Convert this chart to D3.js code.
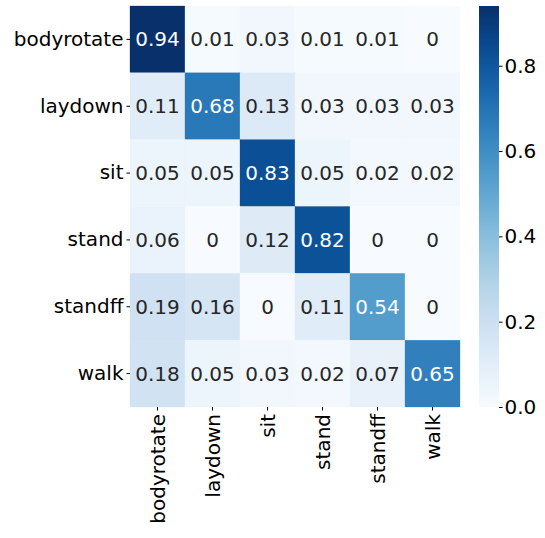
<!DOCTYPE html>
<html>
<head>
<meta charset="utf-8">
<script src="https://cdn.jsdelivr.net/npm/d3@7"></script>
<style>
  body { margin: 0; background: #fff; }
  text { font-family: "DejaVu Sans", sans-serif; }
</style>
</head>
<body>
<svg id="chart" width="545" height="538"></svg>
<script>
(function(){
    "use strict";

    var labels = ["bodyrotate", "laydown", "sit", "stand", "standff", "walk"];
    var bodyrotate = [0.94, 0.01, 0.03, 0.01, 0.01, 0];
    var laydown    = [0.11, 0.68, 0.13, 0.03, 0.03, 0.03];
    var sit        = [0.05, 0.05, 0.83, 0.05, 0.02, 0.02];
    var stand      = [0.06, 0, 0.12, 0.82, 0, 0];
    var standff    = [0.19, 0.16, 0, 0.11, 0.54, 0];
    var walk       = [0.18, 0.05, 0.03, 0.02, 0.07, 0.65];
    var colorTicks = [0, 0.2, 0.4, 0.6, 0.8];

    var rows = [bodyrotate, laydown, sit, stand, standff, walk];
    var vmax = d3.max(rows, function(r) { return d3.max(r); });

    var svg = d3.select("#chart");
    var left = 130, top = 6, right = 460, bottom = 407;
    var fs = "20px";

    var x = d3.scaleBand().domain(labels).range([left, right]);
    var y = d3.scaleBand().domain(labels).range([top, bottom]);
    var color = d3.scaleSequential(d3.interpolateBlues).domain([0, vmax]);

    var cells = [];
    rows.forEach(function(r, i) {
        r.forEach(function(v, j) {
            cells.push({row: labels[i], col: labels[j], v: v});
        });
    });

    svg.append("g").selectAll("rect")
        .data(cells)
        .enter()
        .append("rect")
        .attr("x", function(d) { return x(d.col); })
        .attr("y", function(d) { return y(d.row); })
        .attr("width", x.bandwidth())
        .attr("height", y.bandwidth())
        .attr("fill", function(d) { return color(d.v); })
        .attr("stroke", function(d) { return color(d.v); })
        .attr("stroke-width", 0.3);

    svg.append("g").selectAll("text")
        .data(cells)
        .enter()
        .append("text")
        .attr("x", function(d) { return x(d.col) + x.bandwidth() / 2; })
        .attr("y", function(d) { return y(d.row) + y.bandwidth() / 2; })
        .attr("text-anchor", "middle")
        .attr("dominant-baseline", "central")
        .attr("font-size", fs)
        .attr("fill", function(d) { return d.v / vmax > 0.5 ? "#ffffff" : "#262626"; })
        .text(function(d) { return d3.format("")(d.v); });

    var yAxis = svg.append("g")
        .attr("transform", "translate(" + left + ",0)")
        .call(d3.axisLeft(y).tickSize(3.5).tickPadding(3));
    yAxis.select(".domain").remove();
    yAxis.selectAll("text").attr("font-size", fs).attr("fill", "#000");

    var xAxis = svg.append("g")
        .attr("transform", "translate(0," + bottom + ")")
        .call(d3.axisBottom(x).tickSize(3.5).tickPadding(3));
    xAxis.select(".domain").remove();
    xAxis.selectAll("text")
        .attr("font-size", fs)
        .attr("fill", "#000")
        .attr("text-anchor", "end")
        .attr("dominant-baseline", "central")
        .attr("dy", null)
        .attr("transform", "translate(0,7) rotate(-90)")
        .attr("x", 0)
        .attr("y", 0);

    // colorbar
    var cbX = 479, cbW = 20;
    var cy = d3.scaleLinear().domain([0, vmax]).range([bottom, top]);
    var defs = svg.append("defs");
    var grad = defs.append("linearGradient")
        .attr("id", "cbgrad")
        .attr("x1", 0).attr("y1", 1).attr("x2", 0).attr("y2", 0);
    d3.range(0, 1.0001, 0.1).forEach(function(t) {
        grad.append("stop")
            .attr("offset", t)
            .attr("stop-color", color(t * vmax));
    });
    svg.append("rect")
        .attr("x", cbX).attr("y", top)
        .attr("width", cbW).attr("height", bottom - top)
        .attr("fill", "url(#cbgrad)");

    var cAxis = svg.append("g")
        .attr("transform", "translate(" + (cbX + cbW) + ",0)")
        .call(d3.axisRight(cy).tickValues(colorTicks).tickFormat(d3.format(".1f")).tickSize(3.5).tickPadding(2));
    cAxis.select(".domain").remove();
    cAxis.selectAll("text").attr("font-size", fs).attr("fill", "#000");
}());
</script>
</body>
</html>
